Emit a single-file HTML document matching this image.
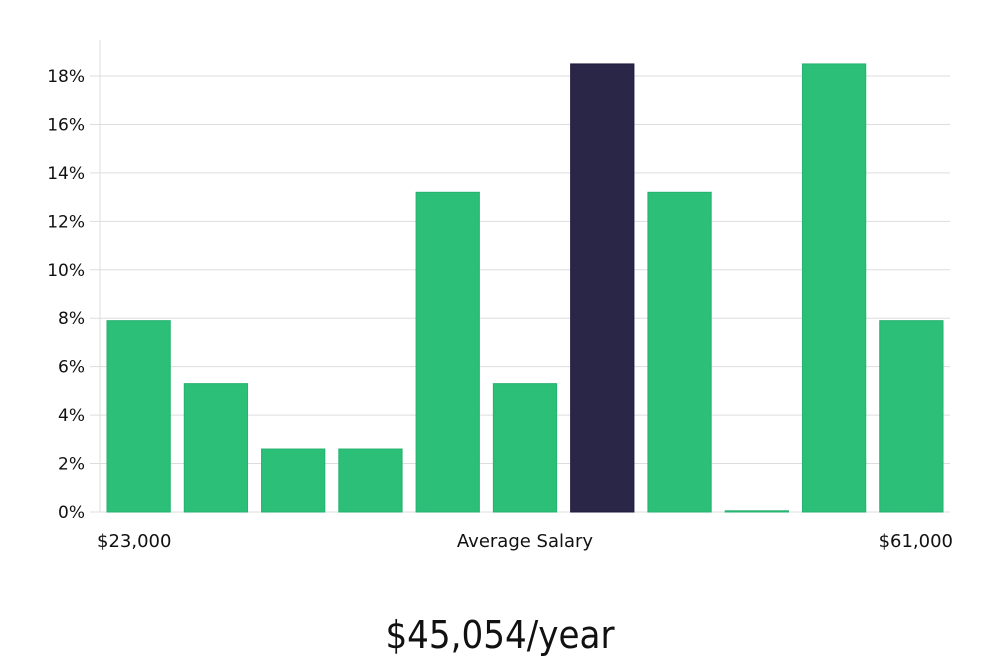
<!DOCTYPE html>
<html><head><meta charset="utf-8">
<style>
body{margin:0;width:1000px;height:660px;background:#fff;font-family:"DejaVu Sans","Liberation Sans",sans-serif;overflow:hidden}
svg text{font-family:"DejaVu Sans","Liberation Sans",sans-serif;fill:#111}
</style></head>
<body>
<svg id="chart" width="1000" height="660" xmlns="http://www.w3.org/2000/svg">
<g id="grid"></g>
<g id="ylabels"></g>
<line x1="100" y1="40" x2="100" y2="512" stroke="#ddd" stroke-width="1"/>
<g id="bars"></g>
<text x="97" y="547" font-size="18">$23,000</text>
<text x="525" y="547" font-size="18" text-anchor="middle">Average Salary</text>
<text x="953" y="547" font-size="18" text-anchor="end">$61,000</text>
<text x="500" y="648" font-size="38" text-anchor="middle" style="font-family:'Liberation Sans Narrow','DejaVu Sans Condensed','Liberation Sans',sans-serif;font-weight:300">$45,054/year</text>
</svg>
<script>
const values = [7.9, 5.3, 2.6, 2.6, 13.2, 5.3, 18.5, 13.2, 0.05, 18.5, 7.9];
const highlightIndex = 6;
const yTicks = [0, 2, 4, 6, 8, 10, 12, 14, 16, 18];
const NS = "http://www.w3.org/2000/svg";
const x0 = 100, x1 = 950, yBase = 512, pxPerPct = 24.22;
const y = v => yBase - v * pxPerPct;
const step = (x1 - x0) / values.length;
const grid = document.getElementById('grid'), yl = document.getElementById('ylabels'), bars = document.getElementById('bars');
yTicks.forEach(t => {
  const l = document.createElementNS(NS, 'line');
  
  
  l.setAttribute('x1', 90); l.setAttribute('x2', x1);
  l.setAttribute('y1', y(t)); l.setAttribute('y2', y(t));
  l.setAttribute('stroke', '#ddd'); l.setAttribute('stroke-width', 1);
  grid.appendChild(l);
  const tx = document.createElementNS(NS, 'text');
  
  
  tx.setAttribute('x', 85); tx.setAttribute('y', y(t) + 6);
  tx.setAttribute('text-anchor', 'end'); tx.setAttribute('font-size', 17);
  tx.textContent = t + '%';
  yl.appendChild(tx);
});
values.forEach((v, i) => {
  const r = document.createElementNS(NS, 'rect');
  
  
  r.setAttribute('x', x0 + i * step + 7);
  r.setAttribute('width', step - 14);
  const h = Math.max(v * pxPerPct, 1);
  r.setAttribute('y', yBase - h);
  r.setAttribute('height', h);
  r.setAttribute('fill', i === highlightIndex ? '#2a2648' : '#2bbf78');
  r.setAttribute('stroke', i === highlightIndex ? '#1e1a3d' : '#26b26f');
  r.setAttribute('stroke-width', 1);
  bars.appendChild(r);
});
</script>
</body></html>
